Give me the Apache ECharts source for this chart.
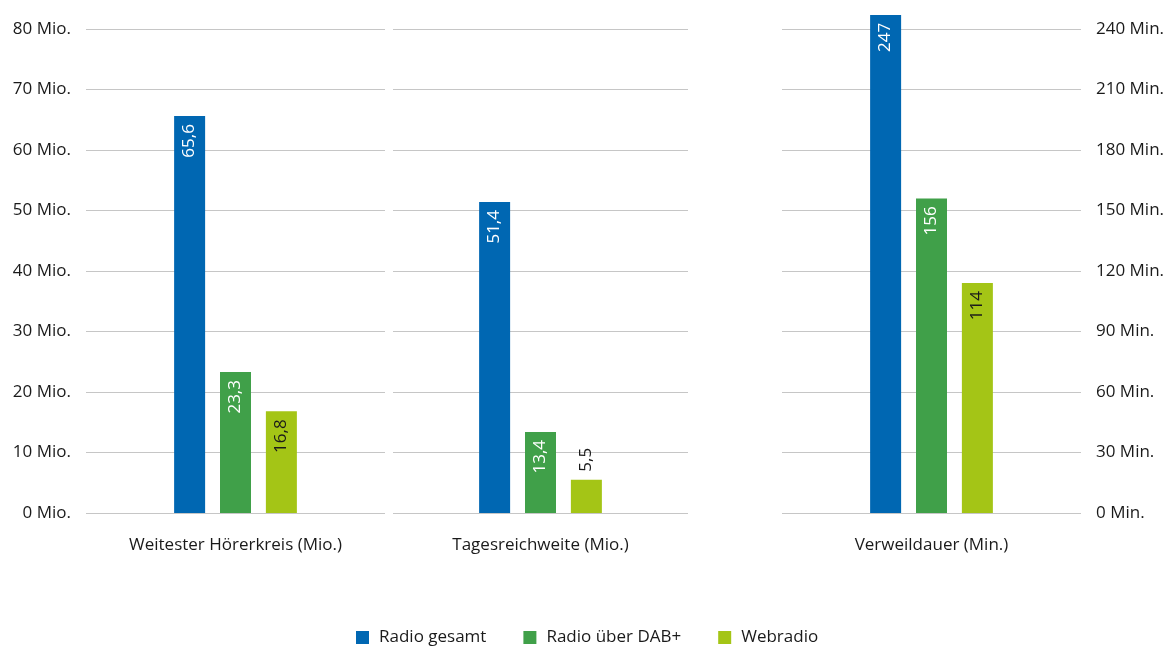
<!DOCTYPE html>
<html>
<head>
<meta charset="utf-8">
<script src="https://cdn.jsdelivr.net/npm/echarts@6/dist/echarts.min.js"></script>
<style>
  html, body { margin: 0; padding: 0; background: #fff; }
  #chart { width: 1175px; height: 647px; }
</style>
</head>
<body>
<div id="chart"></div>
<script>
// Daten
var categories = ['Weitester Hörerkreis (Mio.)', 'Tagesreichweite (Mio.)', 'Verweildauer (Min.)'];
var seriesNames = ['Radio gesamt', 'Radio über DAB+', 'Webradio'];
var radioGesamt = [65.6, 51.4, 247];
var radioDab = [23.3, 13.4, 156];
var webradio = [16.8, 5.5, 114];
var axisMax = [80, 80, 240];
var axisStep = [10, 10, 30];

var colors = ['#0067b2', '#40a049', '#a4c516'];
var labelColors = ['#ffffff', '#ffffff', '#1a1a1a'];
var textColor = '#1a1a1a';
var font = 'Open Sans';

var values = [radioGesamt, radioDab, webradio];

var grids = [
  { left: 86, width: 299, top: 29, height: 484 },
  { left: 393, width: 295, top: 29, height: 484 },
  { left: 782, width: 299, top: 29, height: 484 }
];

function fmt(v) {
  return String(v).replace('.', ',');
}

var xAxes = [], yAxes = [], series = [];
for (var g = 0; g < 3; g++) {
  xAxes.push({
    type: 'category',
    gridIndex: g,
    data: [categories[g]],
    axisLine: { show: false },
    axisTick: { show: false },
    axisLabel: { color: textColor, fontFamily: font, fontSize: 17, margin: 24 }
  });
  var unit = g === 2 ? ' Min.' : ' Mio.';
  yAxes.push({
    type: 'value',
    gridIndex: g,
    position: g === 2 ? 'right' : 'left',
    min: 0,
    max: axisMax[g],
    interval: axisStep[g],
    axisLine: { show: false },
    axisTick: { show: false },
    splitLine: { lineStyle: { color: '#c6c6c6', width: 1 } },
    axisLabel: {
      show: g !== 1,
      color: textColor,
      fontFamily: font,
      fontSize: 17,
      margin: 15,
      formatter: (function (u) { return function (v) { return v + u; }; })(unit)
    }
  });
  for (var s = 0; s < 3; s++) {
    var v = values[s][g];
    var item = { value: v };
    if (v / axisMax[g] < 0.1) {
      // Balken zu kurz: Wert oberhalb
      item.label = { position: 'top', align: 'left', color: textColor, distance: 8 };
    }
    series.push({
      name: seriesNames[s],
      type: 'bar',
      xAxisIndex: g,
      yAxisIndex: g,
      data: [item],
      barWidth: 31,
      barGap: '48%',
      clip: false,
      itemStyle: { color: colors[s] },
      label: {
        show: true,
        position: 'insideTop',
        rotate: 90,
        align: 'right',
        verticalAlign: 'middle',
        distance: 8,
        color: labelColors[s],
        fontFamily: font,
        fontSize: 17,
        formatter: function (p) { return fmt(p.value); }
      }
    });
  }
}

var chart = echarts.init(document.getElementById('chart'));
chart.setOption({
  animation: false,
  grid: grids,
  xAxis: xAxes,
  yAxis: yAxes,
  legend: {
    data: seriesNames,
    left: 351,
    top: 624,
    icon: 'rect',
    itemWidth: 13,
    itemHeight: 13,
    itemGap: 37,
    textStyle: { color: textColor, fontFamily: font, fontSize: 17, padding: [0, 0, 0, 5] }
  },
  series: series
});
</script>
</body>
</html>
